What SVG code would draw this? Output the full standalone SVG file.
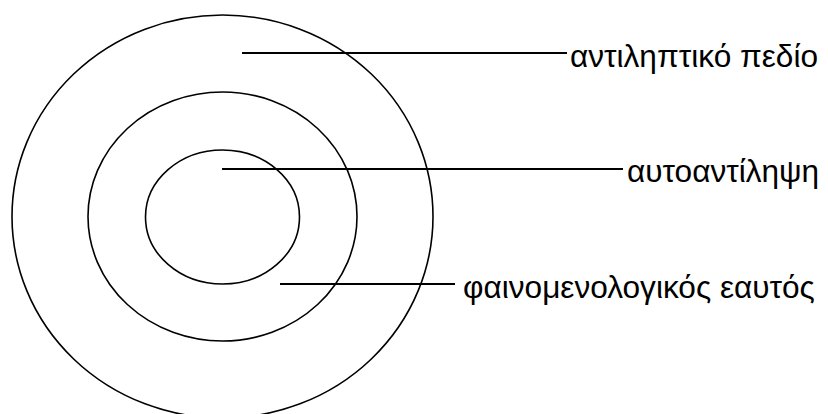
<svg xmlns="http://www.w3.org/2000/svg" width="828" height="414" viewBox="0 0 828 414">
<style>
.ring{fill:none;stroke:#000;stroke-width:1.6}
.conn{stroke:#000;stroke-width:1.8}
.lbl{font-family:"Liberation Sans",Arial,sans-serif;font-size:31.6px;fill:#000}
</style>
<rect width="828" height="414" fill="#fff"/>
<g id="outer"><ellipse class="ring" cx="222.5" cy="216.5" rx="210.5" ry="201.5"/></g>
<g id="middle"><ellipse class="ring" cx="222.5" cy="216.5" rx="134.5" ry="124.5"/></g>
<g id="inner"><ellipse class="ring" cx="222.5" cy="217" rx="77" ry="67"/></g>
<g id="connectors">
<line class="conn" x1="242" y1="53" x2="567" y2="53"/>
<line class="conn" x1="222" y1="169" x2="623" y2="169"/>
<line class="conn" x1="280" y1="284" x2="455" y2="284"/>
</g>
<g id="label-field"><text class="lbl" x="570" y="67">αντιληπτικό πεδίο</text></g>
<g id="label-self-perception"><text class="lbl" x="627" y="182">αυτοαντίληψη</text></g>
<g id="label-phenomenal-self"><text class="lbl" x="463" y="298">φαινομενολογικός εαυτός</text></g>
</svg>
